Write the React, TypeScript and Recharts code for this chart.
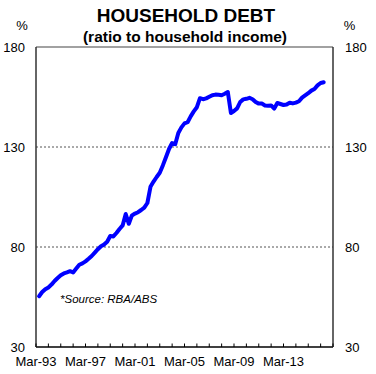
import React from 'react';
import { LineChart, Line, XAxis, YAxis, ReferenceLine, Customized } from 'recharts';

// Quarter index 0 = Mar-93
const startQuarter = 1;
const debtRatio = [
  55.4, 57.5, 58.9, 59.8, 61.2, 63.0, 64.5, 65.9, 66.8, 67.3,
  67.9, 67.3, 69.2, 71.1, 71.8, 72.8, 74.1, 75.5, 77.2, 78.9,
  80.4, 81.2, 82.6, 85.5, 85.3, 87.0, 89.0, 90.8, 96.5, 91.6,
  95.8, 96.7, 97.4, 98.5, 99.7, 102.0, 110.1, 112.7, 115.0, 117.1,
  120.8, 124.9, 129.0, 132.0, 131.4, 137.0, 139.8, 141.8, 142.4, 145.3,
  147.8, 149.9, 154.4, 153.9, 154.3, 155.1, 155.9, 156.2, 156.1, 155.9,
  156.6, 157.5, 147.0, 148.0, 149.3, 152.5, 153.8, 154.1, 154.6, 153.9,
  152.5, 151.7, 151.7, 150.8, 150.6, 150.8, 149.2, 152.0, 151.5, 151.0,
  151.2, 152.1, 151.8, 152.2, 152.9, 154.7, 155.8, 156.9, 158.2, 159.0,
  160.8, 162.0, 162.4,
];

const xMinorTicks = [0, 4, 8, 12, 16, 20, 24, 28, 32, 36, 40, 44, 48, 52, 56, 60, 64, 68, 72, 76, 80, 84, 88, 92, 96];
const xLabelTicks = [0, 16, 32, 48, 64, 80];
const xTickLabels = ['Mar-93', 'Mar-97', 'Mar-01', 'Mar-05', 'Mar-09', 'Mar-13'];
const yTicks = [30, 80, 130, 180];
const gridValues = [80, 130];

const title = 'HOUSEHOLD DEBT';
const subtitle = '(ratio to household income)';
const unitLabel = '%';
const sourceNote = '*Source: RBA/ABS';

const data = debtRatio.map((v, i) => ({ q: startQuarter + i, v }));

const FONT = '"Liberation Sans", Arial, Helvetica, sans-serif';
const X_MARGIN = 10;

const XTick = (props: any) => {
  const { x, y, payload } = props;
  const axisY = y - X_MARGIN;
  const idx = xLabelTicks.indexOf(payload.value);
  return (
    <g>
      <line x1={x} x2={x} y1={axisY} y2={axisY - 3.5} stroke="#000" strokeWidth={1} />
      {idx >= 0 && (
        <text x={x} y={y} dy="0.71em" textAnchor="middle" fontSize={13} fontFamily={FONT} fill="#000">
          {xTickLabels[idx]}
        </text>
      )}
    </g>
  );
};

const Overlay = () => (
  <g fontFamily={FONT} fill="#000">
    <text x={186} y={22} textAnchor="middle" fontSize={19} fontWeight="bold">{title}</text>
    <text x={185} y={42} textAnchor="middle" fontSize={15.5} fontWeight="bold">{subtitle}</text>
    <text x={22} y={29.5} textAnchor="middle" fontSize={13}>{unitLabel}</text>
    <text x={349.5} y={29.5} textAnchor="middle" fontSize={13}>{unitLabel}</text>
    <text x={60} y={303} fontSize={11.5} fontStyle="italic">{sourceNote}</text>
  </g>
);

export default function App() {
  return (
    <div style={{ position: 'absolute', left: 0, top: 0, width: 376, height: 374, background: '#fff' }}>
      <LineChart width={376} height={374} data={data} margin={{ top: 47, right: 0, bottom: 0, left: 0 }}>
        <XAxis
          dataKey="q"
          type="number"
          domain={[0, 96]}
          ticks={xMinorTicks}
          interval={0}
          tickSize={0}
          tickMargin={X_MARGIN}
          tick={<XTick />}
          tickLine={false}
          axisLine={{ stroke: '#000', strokeWidth: 1.5 }}
          height={27}
        />
        <YAxis
          yAxisId="left"
          orientation="left"
          type="number"
          domain={[30, 180]}
          ticks={yTicks}
          interval={0}
          width={36}
          tickLine={false}
          tickSize={0}
          tickMargin={11}
          axisLine={{ stroke: '#333', strokeWidth: 1.5 }}
          tick={{ fontSize: 13, fontFamily: FONT, fill: '#000' }}
        />
        <YAxis
          yAxisId="right"
          orientation="right"
          type="number"
          domain={[30, 180]}
          ticks={yTicks}
          interval={0}
          width={43}
          tickLine={false}
          tickSize={0}
          tickMargin={12}
          axisLine={{ stroke: '#333', strokeWidth: 1.5 }}
          tick={{ fontSize: 13, fontFamily: FONT, fill: '#000' }}
        />
        {gridValues.map((g) => (
          <ReferenceLine key={g} yAxisId="left" y={g} stroke="#555" strokeDasharray="2 2" strokeWidth={1} />
        ))}
        <ReferenceLine yAxisId="left" y={180} stroke="#444" strokeWidth={1.2} />
        <Line
          yAxisId="right"
          dataKey="v"
          type="linear"
          stroke="none"
          dot={false}
          activeDot={false}
          isAnimationActive={false}
        />
        <Line
          yAxisId="left"
          dataKey="v"
          type="linear"
          stroke="#0000ff"
          strokeWidth={4}
          dot={false}
          strokeLinejoin="round"
          strokeLinecap="round"
          isAnimationActive={false}
        />
        <Customized component={Overlay} />
      </LineChart>
    </div>
  );
}
